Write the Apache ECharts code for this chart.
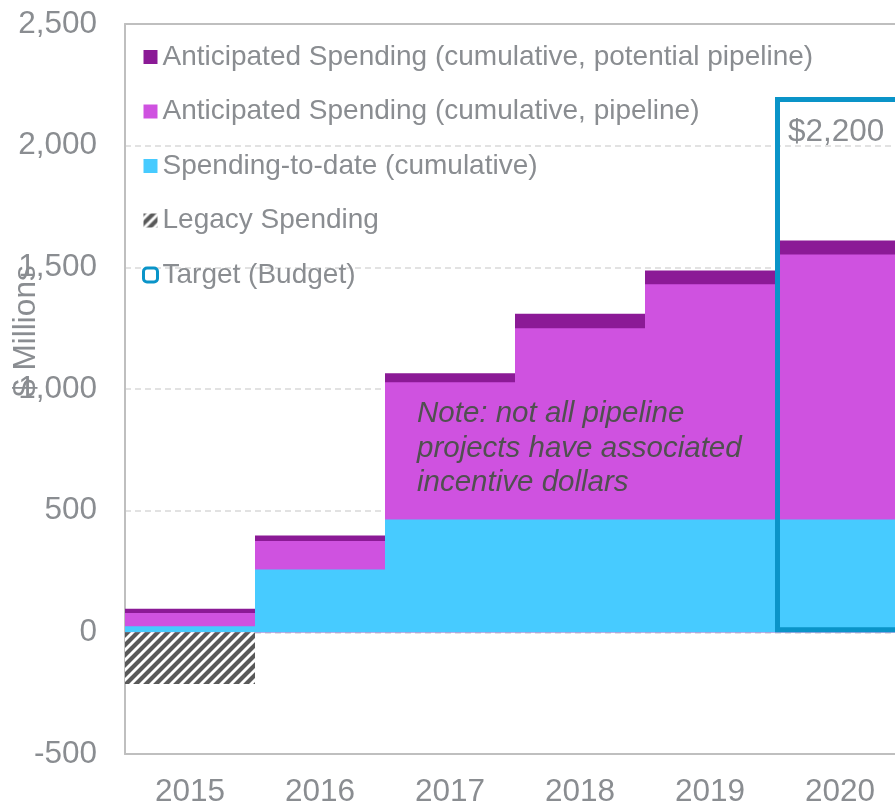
<!DOCTYPE html>
<html>
<head>
<meta charset="utf-8">
<script src="https://cdn.jsdelivr.net/npm/echarts@6/dist/echarts.min.js"></script>
<style>
  html, body { margin: 0; padding: 0; background: #fff; }
  #chart { width: 895px; height: 806px; }
</style>
</head>
<body>
<div id="chart"></div>
<script>
// 数据
var years = ['2015', '2016', '2017', '2018', '2019', '2020'];
var potentialPipeline = [97, 398, 1065, 1309, 1487, 1610];   // cumulative, potential pipeline
var pipeline = [79, 375, 1028, 1250, 1430, 1553];             // cumulative, pipeline
var spendingToDate = [25, 258, 464, 464, 464, 464];           // cumulative
var legacy = [-212, null, null, null, null, null];
var target = [null, null, null, null, null, 2200];

var grey = '#8a8d91';
var font = 'Liberation Sans, Arial, sans-serif';

// 斜线填充
function hatch() {
  var c = document.createElement('canvas');
  c.width = 10; c.height = 10;
  var ctx = c.getContext('2d');
  ctx.fillStyle = '#fff';
  ctx.fillRect(0, 0, 10, 10);
  ctx.strokeStyle = '#595959';
  ctx.lineWidth = 4.2;
  ctx.beginPath();
  ctx.moveTo(-2, 12); ctx.lineTo(12, -2);
  ctx.moveTo(-2, 2); ctx.lineTo(2, -2);
  ctx.moveTo(8, 12); ctx.lineTo(12, 8);
  ctx.stroke();
  return c;
}

var chart = echarts.init(document.getElementById('chart'));
chart.setOption({
  animation: false,
  textStyle: { fontFamily: font },
  grid: { left: 125, right: -10, top: 24, bottom: 52, outerBoundsMode: 'none' },
  legend: {
    orient: 'vertical',
    left: 142,
    top: 43,
    padding: 0,
    itemWidth: 14,
    itemHeight: 14,
    itemGap: 26.5,
    textStyle: { fontSize: 28, lineHeight: 28, color: grey, fontFamily: font },
    data: [
      { name: 'Anticipated Spending (cumulative, potential pipeline)', icon: 'rect' },
      { name: 'Anticipated Spending (cumulative, pipeline)', icon: 'rect' },
      { name: 'Spending-to-date (cumulative)', icon: 'rect' },
      { name: 'Legacy Spending', icon: 'rect' },
      { name: 'Target (Budget)', icon: 'roundRect', itemStyle: { borderWidth: 3, color: '#fff', borderColor: '#0a94c8' } }
    ]
  },
  xAxis: [{
    type: 'category',
    data: years,
    position: 'bottom',
    axisLine: { onZero: false, lineStyle: { color: '#bfbfbf', width: 2 } },
    axisTick: { show: false },
    axisLabel: { fontSize: 31.5, color: grey, margin: 22 }
  }, {
    type: 'category',
    data: years,
    position: 'top',
    axisLine: { onZero: false, lineStyle: { color: '#bfbfbf', width: 2 } },
    axisTick: { show: false },
    axisLabel: { show: false }
  }],
  yAxis: {
    type: 'value',
    min: -500,
    max: 2500,
    interval: 500,
    axisLine: { show: true, lineStyle: { color: '#bfbfbf', width: 2 } },
    axisTick: { show: false },
    axisLabel: {
      fontSize: 31.5, color: grey, margin: 28,
      formatter: function (v) { return v.toLocaleString('en-US'); }
    },
    splitLine: { lineStyle: { color: '#d9d9d9', type: [6, 4], width: 1.5 } }
  },
  series: [
    {
      name: 'Anticipated Spending (cumulative, potential pipeline)',
      type: 'bar', barCategoryGap: '0%', barGap: '-100%',
      itemStyle: { color: '#8b1a96' },
      data: potentialPipeline
    },
    {
      name: 'Anticipated Spending (cumulative, pipeline)',
      type: 'bar', barCategoryGap: '0%', barGap: '-100%',
      itemStyle: { color: '#cf52e0' },
      data: pipeline
    },
    {
      name: 'Spending-to-date (cumulative)',
      type: 'bar', barCategoryGap: '0%', barGap: '-100%',
      itemStyle: { color: '#47cbff' },
      data: spendingToDate
    },
    {
      name: 'Legacy Spending',
      type: 'bar', barCategoryGap: '0%', barGap: '-100%',
      itemStyle: { color: { image: hatch(), repeat: 'repeat' } },
      data: legacy
    },
    {
      name: 'Target (Budget)',
      type: 'bar', barCategoryGap: '0%', barGap: '-100%',
      itemStyle: { color: 'rgba(0,0,0,0)', borderColor: '#0a94c8', borderWidth: 5 },
      label: {
        show: true,
        position: [13, 19],
        fontSize: 31.5,
        color: grey,
        formatter: function (p) { return '$' + p.value.toLocaleString('en-US'); }
      },
      data: target
    }
  ],
  graphic: [{
    type: 'text',
    z: 100,
    left: 417,
    top: 397,
    style: {
      text: 'Note: not all pipeline\nprojects have associated\nincentive dollars',
      fontFamily: font,
      fontStyle: 'italic',
      fontSize: 29.5,
      lineHeight: 34.5,
      fill: '#505050'
    }
  }, {
    type: 'text',
    z: 100,
    x: 26,
    y: 331,
    rotation: Math.PI / 2,
    style: {
      text: '$ Millions',
      fontFamily: font,
      fontSize: 31.5,
      fill: grey,
      align: 'center',
      verticalAlign: 'middle'
    }
  }]
});
</script>
</body>
</html>
